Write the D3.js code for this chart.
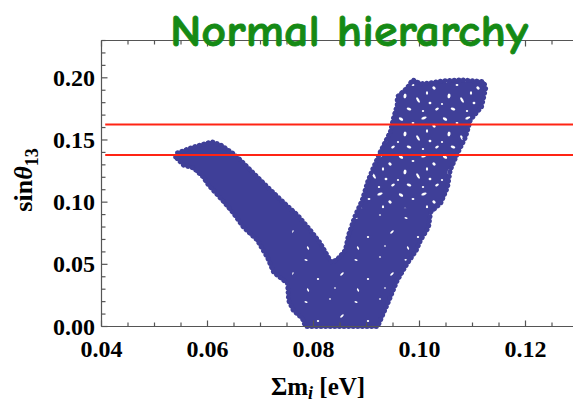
<!DOCTYPE html>
<html>
<head>
<meta charset="utf-8">
<script src="https://cdn.jsdelivr.net/npm/d3@7"></script>
<style>
  body { margin: 0; background: #fff; }
  svg { display: block; }
</style>
</head>
<body>
<div id="chart"></div>
<script>
// outline of the scatter cloud ([sum m_i, sin theta13])
const cloudX = [0.0540, 0.0543, 0.0574, 0.0600, 0.0609, 0.0625, 0.0647, 0.0662, 0.0677, 0.0700,
  0.0725, 0.0747, 0.0770, 0.0794, 0.0813, 0.0828, 0.0834, 0.0845, 0.0860, 0.0866,
  0.0879, 0.0892, 0.0902, 0.0911, 0.0926, 0.0945, 0.0951, 0.0958, 0.0958, 0.0977,
  0.0987, 0.1002, 0.1021, 0.1045, 0.1077, 0.1102, 0.1121, 0.1125, 0.1117, 0.1096,
  0.1087, 0.1072, 0.1058, 0.1053, 0.1040, 0.1021, 0.1017, 0.1002, 0.0994, 0.0977,
  0.0958, 0.0940, 0.0921, 0.0785, 0.0779, 0.0762, 0.0753, 0.0751, 0.0725, 0.0713,
  0.0694, 0.0668, 0.0649, 0.0628, 0.0602, 0.0592, 0.0574, 0.0555];
const cloudY = [0.1363, 0.1395, 0.1444, 0.1476, 0.1484, 0.1460, 0.1395, 0.1339, 0.1274, 0.1177,
  0.1073, 0.0984, 0.0895, 0.0774, 0.0669, 0.0556, 0.0516, 0.0540, 0.0613, 0.0734,
  0.0895, 0.1016, 0.1161, 0.1258, 0.1403, 0.1565, 0.1677, 0.1782, 0.1847, 0.1919,
  0.1984, 0.1952, 0.1960, 0.1976, 0.1984, 0.1976, 0.1968, 0.1919, 0.1766, 0.1661,
  0.1524, 0.1395, 0.1258, 0.1121, 0.0992, 0.0919, 0.0798, 0.0694, 0.0613, 0.0508,
  0.0371, 0.0185, 0.0000, 0.0000, 0.0065, 0.0129, 0.0210, 0.0347, 0.0435, 0.0556,
  0.0694, 0.0798, 0.0911, 0.1016, 0.1137, 0.1202, 0.1274, 0.1298];

// loosely filled upper part of the right branch, and the denser V bottom (x from, y from, y to)
const sparseTop = [0.0875, 0.095, 0.23];
const sparseLow = [0.076, 0.0, 0.095];

// experimental band (red lines)
const bandLines = [0.1625, 0.138];

const xTicks = [0.04, 0.06, 0.08, 0.10, 0.12];
const yTicks = [0.00, 0.05, 0.10, 0.15, 0.20];

const width = 573, height = 407;
const margin = { top: 40.5, right: 0, bottom: 80.5, left: 101.5 };
const blue = '#3f3f98';

const svg = d3.select('#chart').append('svg')
  .attr('width', width)
  .attr('height', height);

const x = d3.scaleLinear()
  .domain([0.04, 0.04 + (573 - 101.5) / 5300])
  .range([margin.left, width]);

const y = d3.scaleLinear()
  .domain([0, 0.23])
  .range([height - margin.bottom, margin.top]);

const cloud = cloudX.map((d, i) => [d, cloudY[i]]);
const cloudLine = d3.line().x(d => x(d[0])).y(d => y(d[1])).curve(d3.curveLinearClosed);

// speckle textures (gaps between the scatter dots)
const defs = svg.append('defs');
function speckles(id, w, h, holes) {
  const p = defs.append('pattern')
    .attr('id', id)
    .attr('patternUnits', 'userSpaceOnUse')
    .attr('width', w).attr('height', h);
  p.append('rect').attr('width', w).attr('height', h).attr('fill', blue);
  holes.forEach(o => {
    p.append('ellipse')
      .attr('transform', `translate(${o[0]},${o[1]}) rotate(${o[4]})`)
      .attr('rx', o[2]).attr('ry', o[3])
      .attr('fill', '#fff');
  });
}
speckles('holesTop', 44, 38, [
  [5, 5, 2.4, 1.3, 30], [17, 9, 1.4, 1.1, 0], [28, 4, 2.8, 1.2, -20], [38, 12, 1.9, 1.4, 45],
  [9, 20, 1.5, 2.4, 10], [22, 24, 3.0, 1.2, 60], [34, 27, 1.4, 1.2, 0], [41, 33, 2.0, 1.1, -30],
  [13, 33, 2.4, 1.3, 20], [27, 35, 1.2, 1.0, 0], [2, 28, 1.1, 0.9, 0], [31, 17, 1.1, 1.8, 0]]);
speckles('holesLow', 50, 42, [
  [6, 8, 1.6, 0.9, 20], [30, 5, 1.1, 0.8, 0], [42, 22, 2.2, 0.9, -40],
  [18, 27, 1.2, 1.0, 0], [8, 38, 1.8, 0.8, 60], [35, 36, 1.0, 0.8, 0]]);

defs.append('clipPath').attr('id', 'cloudClip')
  .append('path').datum(cloud).attr('d', cloudLine);

svg.append('path')
  .datum(cloud)
  .attr('d', cloudLine)
  .attr('fill', blue)
  .attr('stroke', blue)
  .attr('stroke-width', 2)
  .attr('stroke-linejoin', 'round');

[[sparseTop, 'holesTop'], [sparseLow, 'holesLow']].forEach(([r, id]) => {
  svg.append('rect')
    .attr('clip-path', 'url(#cloudClip)')
    .attr('x', x(r[0]))
    .attr('y', y(r[2]))
    .attr('width', width - x(r[0]))
    .attr('height', y(r[1]) - y(r[2]))
    .attr('fill', `url(#${id})`);
});

// beaded edge, like the dots on the rim of the cloud
svg.append('path')
  .datum(cloud)
  .attr('d', cloudLine)
  .attr('fill', 'none')
  .attr('stroke', blue)
  .attr('stroke-width', 5)
  .attr('stroke-linecap', 'round')
  .attr('stroke-dasharray', '0.1 4.5');

// red lines
svg.selectAll('.band')
  .data(bandLines)
  .enter()
  .append('line')
  .attr('x1', x(0.0407))
  .attr('x2', width)
  .attr('y1', d => y(d))
  .attr('y2', d => y(d))
  .attr('stroke', '#ff2414')
  .attr('stroke-width', 2);

// frame + ticks
const axisColor = '#555';
const frame = svg.append('g').attr('stroke', axisColor).attr('stroke-width', 1.2);
frame.append('line').attr('x1', x.range()[0]).attr('x2', width).attr('y1', y(0)).attr('y2', y(0));
frame.append('line').attr('x1', x.range()[0]).attr('x2', width).attr('y1', y(0.23)).attr('y2', y(0.23));
frame.append('line').attr('x1', x.range()[0]).attr('x2', x.range()[0]).attr('y1', y(0)).attr('y2', y(0.23));

const xMinor = d3.range(0, 19).map(i => 0.04 + i * 0.005).filter(v => x(v) < width);
const yMinor = d3.range(0, 24).map(i => i * 0.01);
const isMajorX = v => Math.abs(Math.round(v / 0.02) * 0.02 - v) < 1e-6;
const isMajorY = v => Math.abs(Math.round(v / 0.05) * 0.05 - v) < 1e-6;

frame.selectAll('.xb').data(xMinor).enter().append('line')
  .attr('x1', d => x(d)).attr('x2', d => x(d))
  .attr('y1', y(0)).attr('y2', d => y(0) - (isMajorX(d) ? 6 : 4));
frame.selectAll('.xt').data(xMinor).enter().append('line')
  .attr('x1', d => x(d)).attr('x2', d => x(d))
  .attr('y1', y(0.23)).attr('y2', d => y(0.23) + (isMajorX(d) ? 6 : 4));
frame.selectAll('.yl').data(yMinor).enter().append('line')
  .attr('x1', x.range()[0]).attr('x2', d => x.range()[0] + (isMajorY(d) ? 6 : 4))
  .attr('y1', d => y(d)).attr('y2', d => y(d));

const labelFont = '"Liberation Serif", "Times New Roman", serif';

svg.selectAll('.xl').data(xTicks).enter().append('text')
  .attr('x', d => x(d))
  .attr('y', 357)
  .attr('text-anchor', 'middle')
  .attr('font-family', labelFont)
  .attr('font-weight', 'bold')
  .attr('font-size', 24)
  .text(d => d.toFixed(2));

svg.selectAll('.yl2').data(yTicks).enter().append('text')
  .attr('x', 95)
  .attr('y', d => y(d) + 8)
  .attr('text-anchor', 'end')
  .attr('font-family', labelFont)
  .attr('font-weight', 'bold')
  .attr('font-size', 24)
  .text(d => d.toFixed(2));

// axis titles
const xt = svg.append('text')
  .attr('x', 318).attr('y', 395)
  .attr('text-anchor', 'middle')
  .attr('font-family', labelFont)
  .attr('font-weight', 'bold')
  .attr('font-size', 25);
xt.append('tspan').text('Σm');
xt.append('tspan').attr('font-style', 'italic').attr('font-size', 18).attr('dy', 4).text('i');
xt.append('tspan').attr('dy', -4).text(' [eV]');

const yt = svg.append('text')
  .attr('transform', 'translate(32,180) rotate(-90)')
  .attr('text-anchor', 'middle')
  .attr('font-family', labelFont)
  .attr('font-weight', 'bold')
  .attr('font-size', 26);
yt.append('tspan').text('sin');
yt.append('tspan').attr('font-style', 'italic').text('θ');
yt.append('tspan').attr('font-size', 18).attr('dy', 6).text('13');

// title
svg.append('text')
  .attr('x', 170).attr('y', 46)
  .attr('font-family', '"Comic Sans MS", "Comic Neue", Lato, sans-serif')
  .attr('font-weight', 'bold')
  .attr('font-size', 44)
  .attr('fill', '#158a15')
  .attr('stroke', '#158a15')
  .attr('stroke-width', 0.8)
  .attr('textLength', 358)
  .attr('lengthAdjust', 'spacingAndGlyphs')
  .text('Normal hierarchy');
</script>
</body>
</html>
